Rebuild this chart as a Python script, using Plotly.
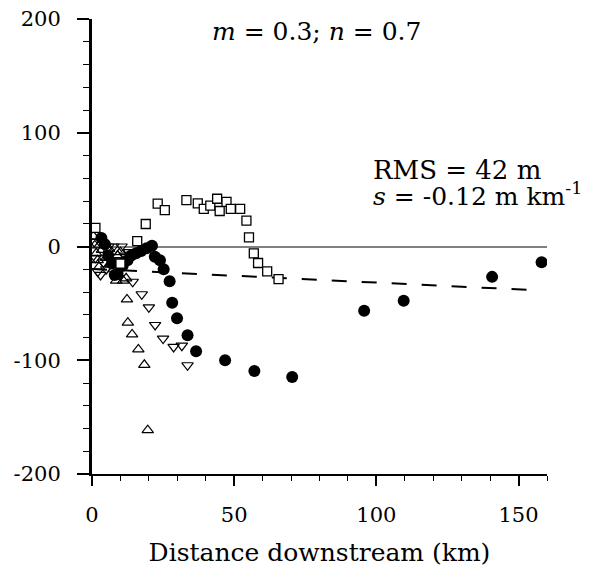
import plotly.graph_objects as go

# ---- data ----
circle_x = [3.3, 4.5, 5.7, 7.0, 8.0, 9.0, 10.8, 12.5, 13.8, 15.5, 17.3, 19.2, 21.1, 22.1, 23.9, 25.2, 27.3, 28.2, 29.9, 33.6, 36.6, 46.8, 57.1, 70.4, 95.7, 109.6, 140.7, 158.1]
circle_y = [7.5, 2.0, -8.0, -15.0, -25.0, -24.0, -17.0, -12.0, -8.0, -6.0, -4.0, -1.6, 0.7, -9.0, -12.0, -20.0, -30.5, -49.5, -63.0, -78.0, -92.0, -100.0, -109.5, -114.7, -56.4, -47.7, -26.7, -13.8]

square_x = [1.2, 10.0, 15.9, 18.9, 23.1, 25.6, 33.2, 37.2, 39.3, 41.6, 44.0, 44.9, 47.3, 48.8, 52.1, 54.3, 55.2, 56.9, 58.4, 61.6, 65.6]
square_y = [16.4, -15.0, 4.8, 19.8, 37.7, 31.9, 40.7, 38.0, 33.0, 35.9, 42.0, 31.2, 39.2, 33.0, 33.0, 22.7, 8.1, -6.0, -14.5, -21.8, -28.6]

up_x = [0.5, 1.0, 1.5, 2.0, 2.5, 3.5, 5.0, 6.0, 6.5, 7.5, 8.5, 9.0, 10.0, 11.0, 12.0, 12.3, 12.6, 14.1, 16.3, 18.4, 19.6]
up_y = [9.0, 1.0, -6.0, -12.0, -18.0, -3.0, -10.0, -2.0, -16.0, -20.0, -30.0, -8.0, -5.0, -30.0, -28.0, -46.5, -67.0, -77.3, -90.5, -104.0, -161.5]

down_x = [0.8, 1.2, 2.0, 3.0, 4.0, 5.0, 5.8, 7.5, 8.5, 10.4, 11.5, 13.0, 14.3, 17.5, 20.0, 22.2, 25.0, 28.7, 31.6, 33.6]
down_y = [4.0, -10.0, -22.0, -25.0, -14.0, -20.0, 0.0, 0.0, -12.0, 0.0, -8.0, -5.0, -31.0, -42.0, -53.5, -69.0, -81.0, -88.3, -87.2, -104.4]

trend_x = [0, 158]
trend_y = [-19.7, -38.7]

x_ticks = [0, 50, 100, 150]
y_ticks = [-200, -100, 0, 100, 200]

F_MAIN = "DejaVu Serif"

fig = go.Figure()
fig.add_trace(go.Scatter(x=trend_x, y=trend_y, mode="lines",
                         line=dict(color="black", width=2, dash="15px,15px"),
                         showlegend=False, hoverinfo="skip"))
fig.add_trace(go.Scatter(x=circle_x, y=circle_y, mode="markers",
                         marker=dict(symbol="circle", size=12, color="black"),
                         showlegend=False))
fig.add_trace(go.Scatter(x=down_x, y=down_y, mode="markers",
                         marker=dict(symbol="triangle-down-open", size=10, color="black",
                                     line=dict(width=1.2, color="black")),
                         showlegend=False))
fig.add_trace(go.Scatter(x=up_x, y=up_y, mode="markers",
                         marker=dict(symbol="triangle-up-open", size=10, color="black",
                                     line=dict(width=1.2, color="black")),
                         showlegend=False))
fig.add_trace(go.Scatter(x=square_x, y=square_y, mode="markers",
                         marker=dict(symbol="square", size=9, color="white",
                                     line=dict(width=1.3, color="black")),
                         showlegend=False))

fig.update_layout(
    width=584, height=566,
    margin=dict(l=84, r=45, t=11, b=100, pad=0, autoexpand=False),
    paper_bgcolor="white", plot_bgcolor="white",
    font=dict(family=F_MAIN, size=24, color="black"),
    annotations=[
        dict(text="<i>m</i> = 0.3; <i>n</i> = 0.7", xref="paper", yref="paper",
             x=0.493, y=0.972, xanchor="center", yanchor="middle", showarrow=False,
             font=dict(size=25, family=F_MAIN)),
        dict(text="RMS = 42 m", xref="paper", yref="paper",
             x=0.613, y=0.668, xanchor="left", yanchor="middle", showarrow=False,
             font=dict(size=26, family=F_MAIN)),
        dict(text="<i>s</i> = -0.12 m km<sup>-1</sup>", xref="paper", yref="paper",
             x=0.613, y=0.615, xanchor="left", yanchor="middle", showarrow=False,
             font=dict(size=25, family=F_MAIN)),
    ],
)
fig.update_xaxes(range=[0, 160], tickvals=x_ticks, ticktext=[str(v) for v in x_ticks],
                 automargin=False, ticklabeloverflow="allow", ticklabelstandoff=11,
                 showgrid=False, zeroline=False, showline=True, linecolor="black", linewidth=2,
                 ticks="outside", ticklen=10, tickwidth=1.5, tickcolor="black",
                 minor=dict(dtick=10, ticks="outside", ticklen=5, tickwidth=1, tickcolor="black"),
                 title=dict(text="Distance downstream (km)", font=dict(size=25, family=F_MAIN), standoff=17),
                 tickfont=dict(size=21, family=F_MAIN))
fig.update_yaxes(range=[-200, 200], tickvals=y_ticks, ticktext=[str(v) for v in y_ticks],
                 automargin=False, ticklabelstandoff=12, ticklabeloverflow="allow",
                 showgrid=False, zeroline=True, zerolinecolor="#808080", zerolinewidth=1.5,
                 showline=True, linecolor="black", linewidth=3,
                 ticks="outside", ticklen=12, tickwidth=1.5, tickcolor="black",
                 minor=dict(dtick=20, ticks="outside", ticklen=6, tickwidth=1, tickcolor="black"),
                 tickfont=dict(size=21, family=F_MAIN))

fig.write_html("out.html")
